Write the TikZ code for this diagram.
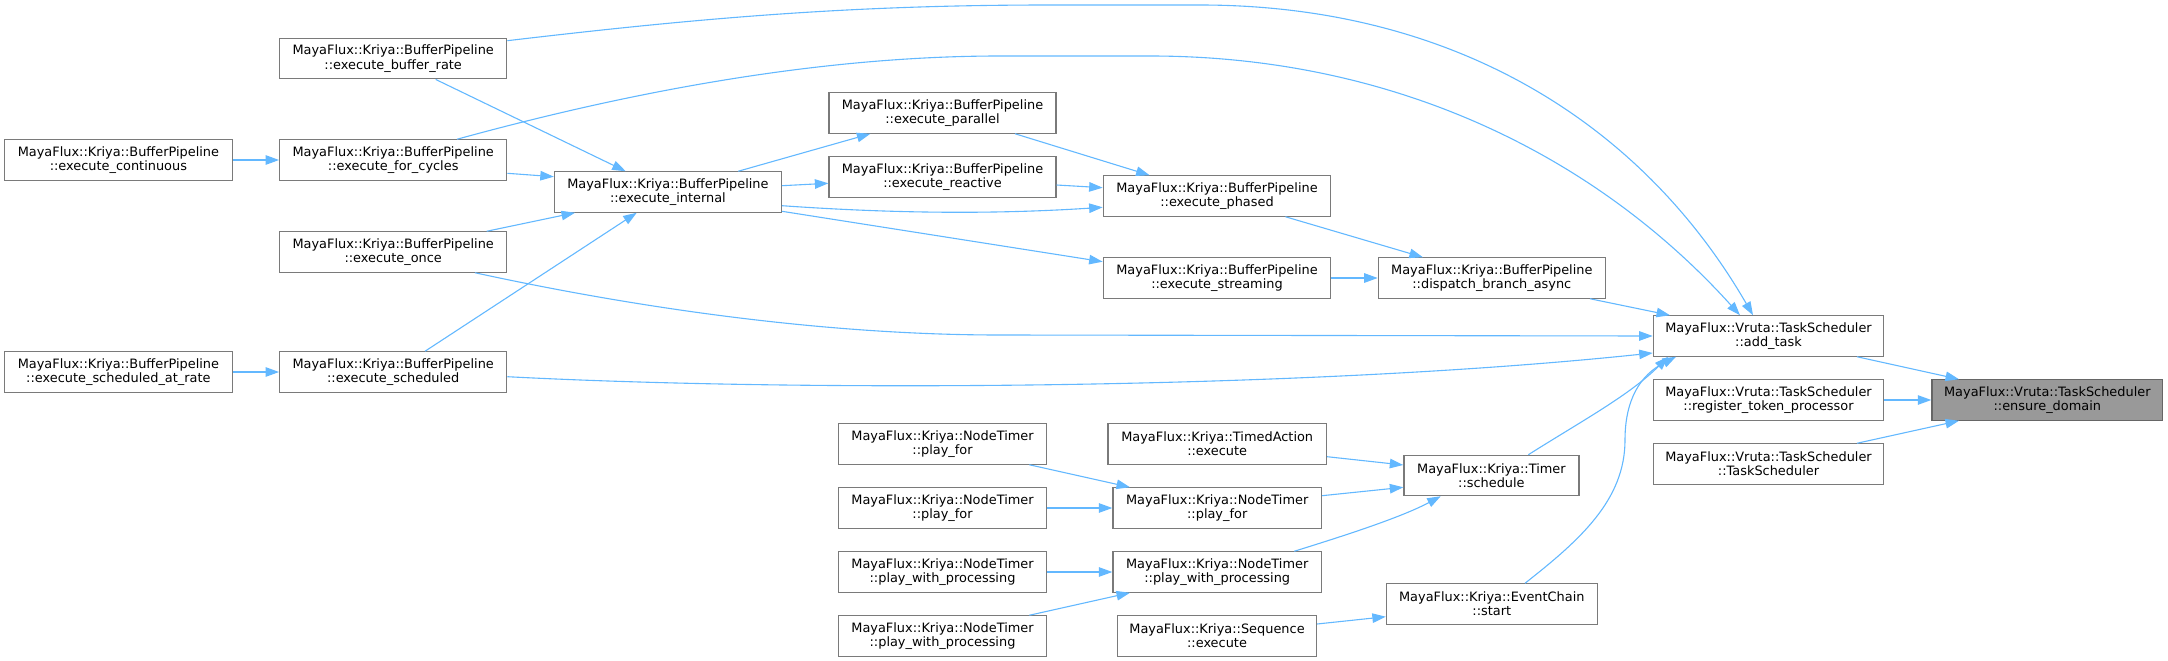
\documentclass[tikz,border=0pt]{standalone}
\usepackage{fontspec}
\setmainfont{DejaVu Sans}
\usetikzlibrary{arrows.meta,calc}
\definecolor{edgec}{HTML}{63B8FF}
\definecolor{boxc}{HTML}{7A7A7A}
\definecolor{mainfill}{HTML}{999999}
\definecolor{mainborder}{HTML}{666666}
\begin{document}
\begin{tikzpicture}[x=1pt,y=-1pt,
  fn/.style={draw=boxc, line width=1.2pt, fill=white, minimum height=40.3pt, inner sep=0pt, align=center, font=\fontsize{12.9}{14.3}\selectfont},
  mainfn/.style={fn, fill=mainfill, draw=mainborder},
  call/.style={draw=edgec, line width=1.1pt, -{Triangle[length=13.5pt,width=9.5pt]}}]
\useasboundingbox (0,0) rectangle (2168,661);

\node[fn,minimum width=227pt] (bufrate) at (393.2,58.7) {MayaFlux::Kriya::BufferPipeline\\::execute\_buffer\_rate};
\node[fn,minimum width=227.5pt] (cont) at (118.4,160) {MayaFlux::Kriya::BufferPipeline\\::execute\_continuous};
\node[fn,minimum width=227pt] (forcyc) at (393.2,160) {MayaFlux::Kriya::BufferPipeline\\::execute\_for\_cycles};
\node[fn,minimum width=227pt] (once) at (393.2,252) {MayaFlux::Kriya::BufferPipeline\\::execute\_once};
\node[fn,minimum width=227.5pt] (schedrate) at (118.4,372) {MayaFlux::Kriya::BufferPipeline\\::execute\_scheduled\_at\_rate};
\node[fn,minimum width=227pt] (sched) at (393.2,372) {MayaFlux::Kriya::BufferPipeline\\::execute\_scheduled};
\node[fn,minimum width=227pt] (internal) at (667.9,192) {MayaFlux::Kriya::BufferPipeline\\::execute\_internal};
\node[fn,minimum width=227pt] (parallel) at (942.5,113) {MayaFlux::Kriya::BufferPipeline\\::execute\_parallel};
\node[fn,minimum width=227pt] (reactive) at (942.5,177) {MayaFlux::Kriya::BufferPipeline\\::execute\_reactive};
\node[fn,minimum width=227.5pt] (phased) at (1217,196) {MayaFlux::Kriya::BufferPipeline\\::execute\_phased};
\node[fn,minimum width=227.5pt] (streaming) at (1217,278) {MayaFlux::Kriya::BufferPipeline\\::execute\_streaming};
\node[fn,minimum width=227pt] (dispatch) at (1491.8,278) {MayaFlux::Kriya::BufferPipeline\\::dispatch\_branch\_async};
\node[fn,minimum width=230.4pt] (addtask) at (1768.5,336) {MayaFlux::Vruta::TaskScheduler\\::add\_task};
\node[fn,minimum width=230.4pt] (register) at (1768.5,400) {MayaFlux::Vruta::TaskScheduler\\::register\_token\_processor};
\node[fn,minimum width=230.4pt] (tsched) at (1768.5,464) {MayaFlux::Vruta::TaskScheduler\\::TaskScheduler};
\node[mainfn,minimum width=230.8pt] (ensure) at (2047.3,400) {MayaFlux::Vruta::TaskScheduler\\::ensure\_domain};
\node[fn,minimum width=218.5pt] (timed) at (1217.2,444) {MayaFlux::Kriya::TimedAction\\::execute};
\node[fn,minimum width=208.5pt] (pfmid) at (1217.2,508) {MayaFlux::Kriya::NodeTimer\\::play\_for};
\node[fn,minimum width=208.5pt] (pwpmid) at (1217.2,572) {MayaFlux::Kriya::NodeTimer\\::play\_with\_processing};
\node[fn,minimum width=199pt] (seq) at (1217,636) {MayaFlux::Kriya::Sequence\\::execute};
\node[fn,minimum width=175pt] (timer) at (1491.4,475.5) {MayaFlux::Kriya::Timer\\::schedule};
\node[fn,minimum width=210.7pt] (start) at (1491.8,604) {MayaFlux::Kriya::EventChain\\::start};
\node[fn,minimum width=208.6pt] (pfa) at (942.5,444) {MayaFlux::Kriya::NodeTimer\\::play\_for};
\node[fn,minimum width=208.6pt] (pfb) at (942.5,508) {MayaFlux::Kriya::NodeTimer\\::play\_for};
\node[fn,minimum width=208.6pt] (pwpa) at (942.5,572) {MayaFlux::Kriya::NodeTimer\\::play\_with\_processing};
\node[fn,minimum width=208.6pt] (pwpb) at (942.5,636) {MayaFlux::Kriya::NodeTimer\\::play\_with\_processing};

\draw[call] ($(addtask.south)+(88.5,0)$) -- ($(ensure.north)+(-88.3,0)$);
\draw[call] (register.east) -- (ensure.west);
\draw[call] ($(tsched.north)+(88.5,0)$) -- ($(ensure.south)+(-88.3,0)$);
\draw[call] ($(bufrate.east)+(0,-18)$) .. controls (700,18) and (850,5) .. (1050,5) -- (1200,5) .. controls (1450,5) and (1640,120) .. ($(addtask.north)+(-15.5,0)$);
\draw[call] ($(bufrate.south)+(42.5,0)$) -- ($(internal.north)+(-42.2,0)$);
\draw[call] ($(forcyc.north)+(63.8,0)$) .. controls (600,100) and (800,56) .. (1000,56) -- (1150,56) .. controls (1400,56) and (1600,160) .. ($(addtask.north)+(-28.5,0)$);
\draw[call] ($(forcyc.east)+(0,13.3)$) -- ($(internal.west)+(0,-15.3)$);
\draw[call] (cont.east) -- (forcyc.west);
\draw[call] ($(once.north)+(93.5,0)$) -- ($(internal.south)+(-92.9,0)$);
\draw[call] ($(once.south)+(81.8,0)$) .. controls (600,300) and (800,335) .. (1000,335) -- (addtask.west);
\draw[call] ($(sched.north)+(31.8,0)$) -- ($(internal.south)+(-31.2,0)$);
\draw[call] ($(sched.east)+(0,4.7)$) .. controls (800,392) and (1300,390) .. ($(addtask.west)+(0,17)$);
\draw[call] (schedrate.east) -- (sched.west);
\draw[call] ($(internal.north)+(70.3,0)$) -- ($(parallel.south)+(-72.1,0)$);
\draw[call] ($(internal.east)+(0,-6.3)$) -- ($(reactive.west)+(0,6.3)$);
\draw[call] ($(internal.east)+(0,13.7)$) .. controls (900,214) and (1000,214) .. ($(phased.west)+(0,11.3)$);
\draw[call] ($(internal.east)+(0,19.3)$) -- ($(streaming.west)+(0,-16.3)$);
\draw[call] ($(parallel.south)+(72.5,0)$) -- ($(phased.north)+(-67.4,0)$);
\draw[call] ($(reactive.east)+(0,8)$) -- ($(phased.west)+(0,-8.3)$);
\draw[call] ($(phased.south)+(68.4,0)$) -- ($(dispatch.north)+(-68.9,0)$);
\draw[call] (streaming.east) -- (dispatch.west);
\draw[call] ($(dispatch.south)+(98.2,0)$) -- ($(addtask.north)+(-98.5,0)$);
\draw[call] ($(timer.north)+(36.9,0)$) .. controls (1580,422) and (1630,395) .. ($(addtask.south)+(-100.5,0)$);
\draw[call] ($(start.north)+(33.2,0)$) .. controls (1580,540) and (1625,500) .. (1625,440) .. controls (1625,400) and (1640,375) .. ($(addtask.south)+(-92.5,0)$);
\draw[call] ($(timed.east)+(0,12.7)$) -- ($(timer.west)+(0,-10.5)$);
\draw[call] ($(pfmid.east)+(0,-12.3)$) -- ($(timer.west)+(0,11.8)$);
\draw[call] ($(pwpmid.north)+(77.1,0)$) .. controls (1340,537) and (1400,518) .. ($(timer.south)+(-50.7,0)$);
\draw[call] ($(seq.east)+(0,-12)$) -- ($(start.west)+(0,12.7)$);
\draw[call] ($(pfa.south)+(86.8,0)$) -- ($(pfmid.north)+(-87.2,0)$);
\draw[call] (pfb.east) -- (pfmid.west);
\draw[call] (pwpa.east) -- (pwpmid.west);
\draw[call] ($(pwpb.north)+(86.8,0)$) -- ($(pwpmid.south)+(-87.2,0)$);
\end{tikzpicture}
\end{document}
